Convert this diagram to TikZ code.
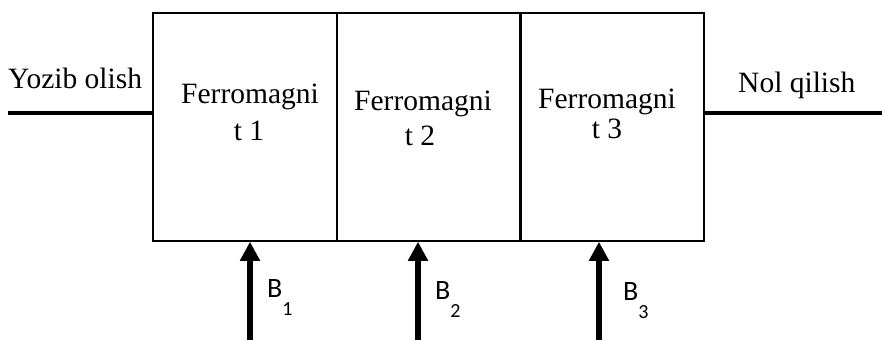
\documentclass[tikz,border=0pt]{standalone}
\usepackage{fontspec}
\setmainfont{Liberation Serif}
\newfontfamily\bfont{Carlito}
\usetikzlibrary{arrows.meta}
\newcommand{\bsub}[1]{\raisebox{-18pt}{\fontsize{20}{22}\selectfont #1}}
\begin{document}
\begin{tikzpicture}[x=1pt,y=-1pt,
  cell/.style={draw,line width=1.5pt,minimum width=184pt,minimum height=228pt,inner sep=0pt},
  lbl/.style={anchor=base,inner sep=0pt,font=\fontsize{29.5}{31}\selectfont},
  blbl/.style={anchor=base west,inner sep=0pt,font=\bfont\fontsize{28}{30}\selectfont},
  thick line/.style={line width=4pt},
  barrow/.style={line width=6pt,-{Triangle[length=19pt,width=19pt]}}]
\useasboundingbox (0,0) rectangle (882,340);
\node[cell] (c1) at (245,127) {};
\node[cell] (c2) at (429,127) {};
\node[cell] (c3) at (612,127) {};
% texts
\node[lbl] (f1) at (250,103) {Ferromagni};
\node[lbl] (t1) at (249,140) {t 1};
\node[lbl] (f2) at (423,110) {Ferromagni};
\node[lbl] (t2) at (420,145) {t 2};
\node[lbl] (f3) at (607,108) {Ferromagni};
\node[lbl] (t3) at (607,138) {t 3};
\node[lbl,anchor=base west] (yo) at (8,88) {Yozib olish};
\node[lbl,anchor=base west] (nq) at (738,92) {Nol qilish};
% horizontal lines
\coordinate (lw) at (8,113);
\coordinate (re) at (882,113);
\draw[thick line] (lw) -- (lw -| c1.west);
\draw[thick line] (re -| c3.east) -- (re);
% arrows
\coordinate (a1) at (250,340);
\coordinate (a2) at (418,340);
\coordinate (a3) at (599,340);
\draw[barrow] (a1) -- (a1 |- c1.south);
\draw[barrow] (a2) -- (a2 |- c2.south);
\draw[barrow] (a3) -- (a3 |- c3.south);
% B labels
\node[blbl] (b1) at (267,297) {B\bsub{1}};
\node[blbl] (b2) at (435,299) {B\bsub{2}};
\node[blbl] (b3) at (623,300) {B\bsub{3}};
\end{tikzpicture}
\end{document}
